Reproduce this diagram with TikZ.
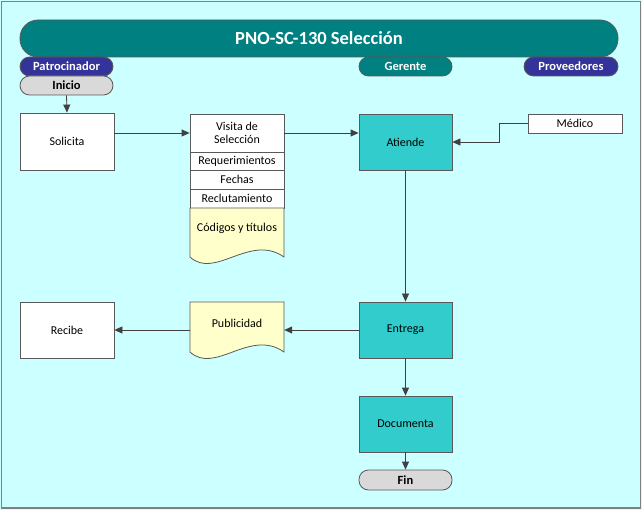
\documentclass[tikz,border=0pt]{standalone}
\usepackage{fontspec}
\setmainfont{Carlito}
\usetikzlibrary{arrows.meta,calc}
\definecolor{bgc}{HTML}{CCFFFF}
\definecolor{tealc}{HTML}{008080}
\definecolor{bluec}{HTML}{333399}
\definecolor{ltealc}{HTML}{33CCCC}
\definecolor{yelc}{HTML}{FFFFCC}
\definecolor{grayc}{HTML}{D9D9D9}
\definecolor{linec}{HTML}{595959}
\definecolor{arrc}{HTML}{404040}
\tikzset{
  x=1pt,y=-1pt,
  every node/.style={font=\fontsize{12}{13}\selectfont, inner sep=0pt, align=center},
  boxw/.style={draw=linec, line width=0.8pt, fill=white, minimum width=94pt, minimum height=56pt},
  boxt/.style={draw=linec, line width=0.8pt, fill=ltealc, minimum width=93pt, minimum height=56pt},
  stackbox/.style={draw=linec, line width=0.8pt, fill=white, minimum width=94pt},
  pill/.style={draw=linec, line width=0.8pt, rounded corners=9.5pt, minimum width=93pt, minimum height=19pt, font=\fontsize{12.5}{13}\selectfont\bfseries},
  lanep/.style={pill, fill=bluec, text=white},
  laneg/.style={pill, fill=tealc, text=white},
  term/.style={pill, fill=grayc, text=black},
  docsh/.style={draw=linec, line width=0.8pt, fill=yelc},
  arr/.style={draw=arrc, line width=0.8pt, -{Triangle[width=7pt,length=8pt]}},
}
\begin{document}
\begin{tikzpicture}
\useasboundingbox (0,0) rectangle (642,510);
\fill[bgc] (0,0) rectangle (642,510);
\draw[gray, line width=1.5pt] (1.5,1.5) rectangle (640.5,508);

% title and lanes
\node[draw=linec, line width=0.8pt, fill=tealc, text=white, rounded corners=18pt,
  minimum width=598pt, minimum height=37pt, font=\fontsize{18.5}{20}\selectfont\bfseries] (title) at (319,38.5) {PNO-SC-130 Selección};
\node[lanep] (patro) at (66.5,66.5) {Patrocinador};
\node[laneg] (ger) at (405.5,66.5) {Gerente};
\node[lanep, minimum width=94pt] (prov) at (571,66.5) {Proveedores};

% column 1
\node[term] (inicio) at (66.5,85.5) {Inicio};
\node[boxw, minimum height=57pt] (solicita) at (67,141.5) {Solicita};
\node[boxw] (recibe) at (67,330) {Recibe};

% column 2 stack
\node[stackbox, minimum height=38pt] (visita) at (237,133) {Visita de\\Selección};
\node[stackbox, minimum height=18pt] (req) at (237,161) {Requerimientos};
\node[stackbox, minimum height=19pt] (fechas) at (237,179.5) {Fechas};
\node[stackbox, minimum height=19pt] (recl) at (237,198.5) {Reclutamiento};
\draw[docsh] (190,208) -- (284,208) -- (284,257)
  .. controls (250,233) and (215,280) .. (190,257) -- cycle;
\node (cod) at (237,228) {Códigos y títulos};

\draw[docsh] (190,302) -- (284,302) -- (284,352)
  .. controls (250,328) and (215,375) .. (190,352) -- cycle;
\node[minimum width=94pt, minimum height=50pt, text height=0pt] (pub) at (237,327) {};
\node (pubt) at (237,323) {Publicidad};

% column 3
\node[boxt] (atiende) at (405.5,142) {Atiende};
\node[boxt] (entrega) at (405.5,330) {Entrega};
\node[boxt] (docu) at (405.5,424) {Documenta};
\node[term, minimum height=20pt] (fin) at (405.5,480) {Fin};

% column 4
\node[stackbox, minimum height=19pt] (medico) at (575,123.5) {Médico};

% connectors
\draw[arr] (inicio.south) -- (solicita.north);
\draw[arr] (solicita.east |- visita.west) -- (visita.west);
\draw[arr] (visita.east) -- (atiende.west |- visita.east);
\draw[arr] (medico.west) -- ++(-28,0) |- (atiende.east);
\draw[arr] (atiende.south) -- (entrega.north);
\draw[arr] (entrega.west) -- (pub.east |- entrega.west);
\draw[arr] (pub.west |- recibe.east) -- (recibe.east);
\draw[arr] (entrega.south) -- (docu.north);
\draw[arr] (docu.south) -- (fin.north);
\end{tikzpicture}
\end{document}
